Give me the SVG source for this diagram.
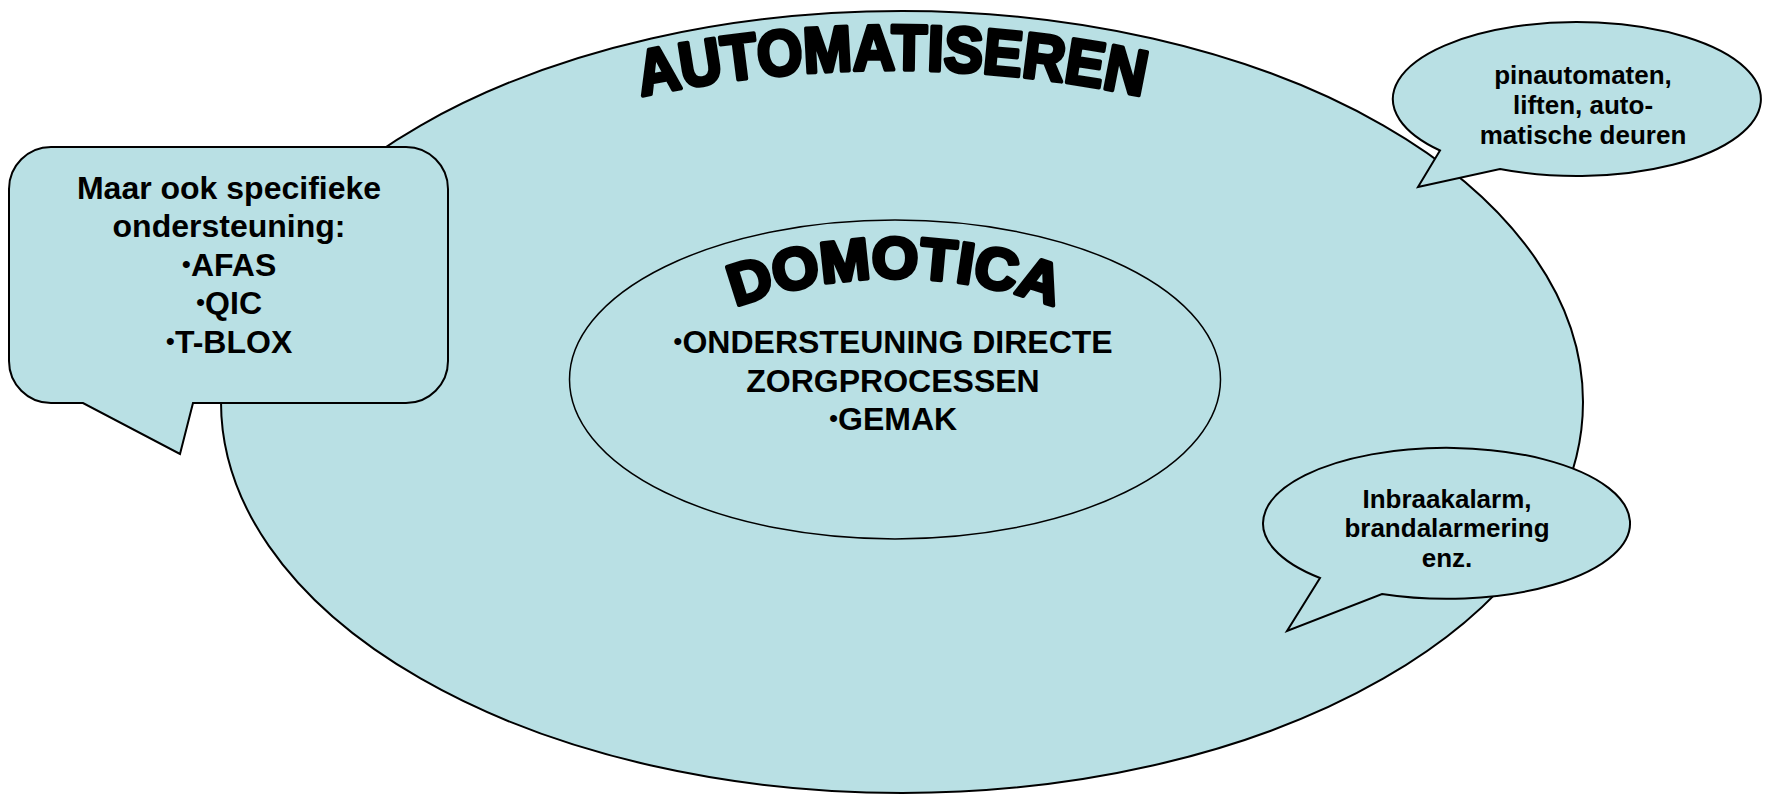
<svg xmlns="http://www.w3.org/2000/svg" width="1769" height="794" viewBox="0 0 1769 794">
<style>
.shape{fill:#B9E0E4;stroke:#000;stroke-width:2}
.txt{font-family:"Liberation Sans",Arial,sans-serif;font-weight:bold;fill:#000;text-anchor:middle}
.t32{font-size:32px}
.t26{font-size:26px}
.bul{font-size:26px;font-weight:normal}
.art{font-family:"Liberation Sans",Arial,sans-serif;font-weight:bold;fill:#000;stroke:#000;stroke-width:4;stroke-linejoin:round;text-anchor:middle}
</style>
<defs>
<path id="arcAuto" d="M598,106.3 A1200,1200 0 0 1 1186,106.3"/>
<path id="arcDomo" d="M700,321.4 A460,460 0 0 1 1090,321.4"/>
</defs>
<rect width="1769" height="794" fill="#fff"/>
<g id="automatiseren">
<ellipse class="shape" cx="902" cy="402" rx="681" ry="391"/>
<text class="art" font-size="64"><textPath href="#arcAuto" startOffset="50%" textLength="505" lengthAdjust="spacingAndGlyphs">AUTOMATISEREN</textPath></text>
</g>
<g id="domotica">
<ellipse class="shape" cx="895" cy="379.5" rx="325.5" ry="159.5" style="stroke-width:1.5"/>
<text class="art" font-size="58"><textPath href="#arcDomo" startOffset="50%" textLength="326" lengthAdjust="spacingAndGlyphs">DOMOTICA</textPath></text>
<text class="txt t32" x="893" y="353"><tspan class="bul" dy="-3">•</tspan><tspan dy="3">ONDERSTEUNING DIRECTE</tspan></text>
<text class="txt t32" x="893" y="391.5">ZORGPROCESSEN</text>
<text class="txt t32" x="893" y="430"><tspan class="bul" dy="-3">•</tspan><tspan dy="3">GEMAK</tspan></text>
</g>
<g id="callout-specifiek">
<path class="shape" d="M51,147 H406 A42,42 0 0 1 448,189 V361 A42,42 0 0 1 406,403 H193 L180,454 L83,403 H51 A42,42 0 0 1 9,361 V189 A42,42 0 0 1 51,147 Z"/>
<text class="txt t32" x="229" y="199">Maar ook specifieke</text>
<text class="txt t32" x="229" y="237">ondersteuning:</text>
<text class="txt t32" x="229" y="276"><tspan class="bul" dy="-3">•</tspan><tspan dy="3">AFAS</tspan></text>
<text class="txt t32" x="229" y="314"><tspan class="bul" dy="-3">•</tspan><tspan dy="3">QIC</tspan></text>
<text class="txt t32" x="229" y="353"><tspan class="bul" dy="-3">•</tspan><tspan dy="3">T-BLOX</tspan></text>
</g>
<g id="callout-pinautomaten">
<path class="shape" d="M1440,150.5 A184,77 0 1 1 1500,169 L1418,187 Z"/>
<text class="txt t26" x="1583" y="84">pinautomaten,</text>
<text class="txt t26" x="1583" y="114">liften, auto-</text>
<text class="txt t26" x="1583" y="144">matische deuren</text>
</g>
<g id="callout-alarm">
<path class="shape" d="M1320,578 A183.5,75.5 0 1 1 1382,594 L1287,631 Z"/>
<text class="txt t26" x="1447" y="508">Inbraakalarm,</text>
<text class="txt t26" x="1447" y="537">brandalarmering</text>
<text class="txt t26" x="1447" y="567">enz.</text>
</g>
<g id="connectors"></g>
</svg>
